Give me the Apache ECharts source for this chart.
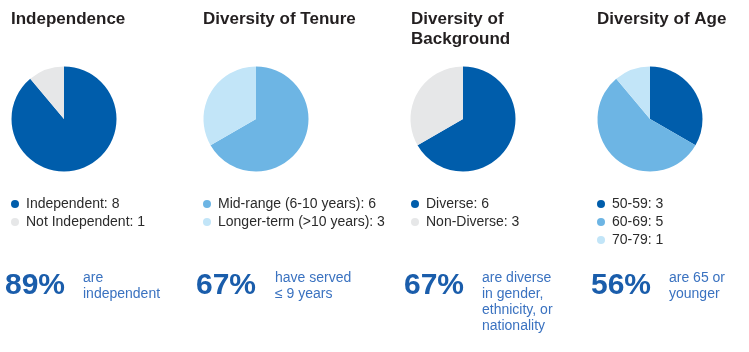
<!DOCTYPE html>
<html>
<head>
<meta charset="utf-8">
<script src="https://cdn.jsdelivr.net/npm/echarts@6/dist/echarts.min.js"></script>
<style>
  html, body { margin: 0; padding: 0; background: #fff; }
  #chart { width: 749px; height: 352px; }
</style>
</head>
<body>
<div id="chart"></div>
<script>
// panel data
var panelTitles = ['Independence', 'Diversity of Tenure', 'Diversity of\nBackground', 'Diversity of Age']
var independenceNames = ['Independent', 'Not Independent']
var independenceValues = [8, 1]
var tenureNames = ['Mid-range (6-10 years)', 'Longer-term (>10 years)']
var tenureValues = [6, 3]
var backgroundNames = ['Diverse', 'Non-Diverse']
var backgroundValues = [6, 3]
var ageNames = ['50-59', '60-69', '70-79']
var ageValues = [3, 5, 1]
var bigNumbers = ['89%', '67%', '67%', '56%']
var notes = ['are\nindependent', 'have served\n\u2264 9 years', 'are diverse\nin gender,\nethnicity, or\nnationality', 'are 65 or\nyounger']

var DARK = '#005dab'
var MID = '#6db5e4'
var LIGHT = '#c2e5f8'
var GREY = '#e6e7e8'
var FONT = 'Arial, "Liberation Sans", sans-serif'

var panels = [
  { names: independenceNames, values: independenceValues, colors: [DARK, GREY] },
  { names: tenureNames, values: tenureValues, colors: [MID, LIGHT] },
  { names: backgroundNames, values: backgroundValues, colors: [DARK, GREY] },
  { names: ageNames, values: ageValues, colors: [DARK, MID, LIGHT] }
]
var lefts = [11, 203, 411, 597]   // left edge of each panel
var centersX = [64, 256, 463, 650]
var numLefts = [5, 196, 404, 591]
var noteLefts = [83, 275, 482, 669]

var valueOf = {}
panels.forEach(function (p) {
  p.names.forEach(function (n, i) { valueOf[n] = p.values[i] })
})

var myChart = echarts.init(document.getElementById('chart'), null, { renderer: 'canvas' })

var titles = []
var legends = []
var series = []
panels.forEach(function (p, k) {
  titles.push({
    text: panelTitles[k],
    left: lefts[k] - 5,
    top: 4,
    textStyle: { fontFamily: FONT, fontSize: 17, fontWeight: 'bold', color: '#231f20', lineHeight: 20 }
  })
  titles.push({
    text: bigNumbers[k],
    left: numLefts[k] - 5,
    top: 266,
    textStyle: { fontFamily: FONT, fontSize: 30, fontWeight: 'bold', color: '#1a5dab', lineHeight: 30 }
  })
  titles.push({
    text: notes[k],
    left: noteLefts[k] - 5,
    top: 265,
    textStyle: { fontFamily: FONT, fontSize: 14, fontWeight: 'normal', color: '#3a72c0', lineHeight: 16 }
  })
  legends.push({
    orient: 'vertical',
    left: lefts[k],
    top: 197,
    padding: 0,
    itemGap: 4,
    itemWidth: 8,
    itemHeight: 8,
    icon: 'circle',
    selectedMode: false,
    data: p.names,
    formatter: function (name) { return name + ': ' + valueOf[name] },
    textStyle: { fontFamily: FONT, fontSize: 14, color: '#2b2b2b', padding: [0, 0, 0, 2] }
  })
  series.push({
    type: 'pie',
    center: [centersX[k], 119],
    radius: 52.5,
    startAngle: 90,
    clockwise: true,
    silent: true,
    label: { show: false },
    labelLine: { show: false },
    itemStyle: { borderWidth: 0 },
    data: p.names.map(function (n, i) {
      return { name: n, value: p.values[i], itemStyle: { color: p.colors[i] } }
    })
  })
})

var option = {
  animation: false,
  title: titles,
  legend: legends,
  series: series
}
myChart.setOption(option)
</script>
</body>
</html>
